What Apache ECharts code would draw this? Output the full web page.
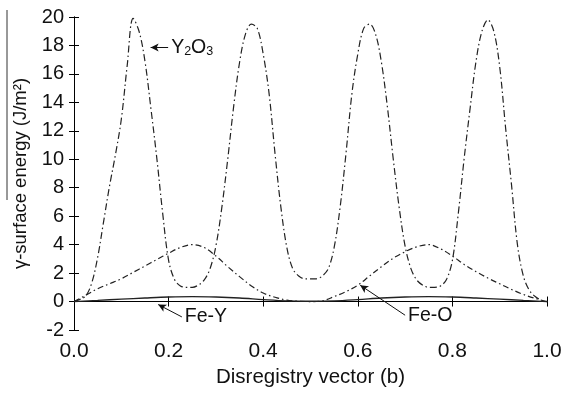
<!DOCTYPE html>
<html>
<head>
<meta charset="utf-8">
<script src="https://cdn.jsdelivr.net/npm/echarts@6/dist/echarts.min.js"></script>
<style>
  html, body { margin: 0; padding: 0; background: #fff; }
  #chart { width: 566px; height: 393px; }
</style>
</head>
<body>
<div id="chart"></div>
<script>
// disregistry (b) for the Y2O3 curve, sampled finely
const dispFine = [
  0, 0.0125, 0.025, 0.0375, 0.05, 0.0625, 0.075, 0.0875, 0.1, 0.1125,
  0.125, 0.1375, 0.15, 0.1625, 0.175, 0.1875, 0.2, 0.2125, 0.225, 0.2375,
  0.25, 0.2625, 0.275, 0.2875, 0.3, 0.3125, 0.325, 0.3375, 0.35, 0.3625,
  0.375, 0.3875, 0.4, 0.4125, 0.425, 0.4375, 0.45, 0.4625, 0.475, 0.4875,
  0.5, 0.5125, 0.525, 0.5375, 0.55, 0.5625, 0.575, 0.5875, 0.6, 0.6125,
  0.625, 0.6375, 0.65, 0.6625, 0.675, 0.6875, 0.7, 0.7125, 0.725, 0.7375,
  0.75, 0.7625, 0.775, 0.7875, 0.8, 0.8125, 0.825, 0.8375, 0.85, 0.8625,
  0.875, 0.8875, 0.9, 0.9125, 0.925, 0.9375, 0.95, 0.9625, 0.975, 0.9875,
  1
];
const energyY2O3 = [
  0, 0.15, 0.4, 1.3, 3.1, 5.6, 8.1, 10.3, 12.8, 16.6,
  19.9, 19.0, 16.9, 13.6, 10.1, 6.2, 2.9, 1.55, 1.1, 1.0,
  1.0, 1.15, 1.5, 2.3, 3.9, 6.6, 10.0, 13.7, 16.8, 18.8,
  19.5, 19.2, 17.4, 14.6, 10.4, 6.6, 3.8, 2.3, 1.8, 1.6,
  1.6, 1.6, 1.8, 2.3, 3.8, 6.6, 10.4, 14.6, 17.4, 19.2,
  19.5, 18.8, 16.8, 13.7, 10.0, 6.6, 3.9, 2.3, 1.5, 1.15,
  1.0, 1.0, 1.1, 1.55, 2.9, 6.2, 10.1, 13.6, 16.9, 19.0,
  19.8, 19.0, 16.5, 12.2, 8.2, 4.0, 1.8, 0.8, 0.35, 0.1,
  0
];

// disregistry (b) for the Fe-O curve
const dispCoarse = [
  0, 0.025, 0.05, 0.075, 0.1, 0.125, 0.15, 0.175, 0.2, 0.225,
  0.25, 0.275, 0.3, 0.325, 0.35, 0.375, 0.4, 0.425, 0.45, 0.475,
  0.5, 0.525, 0.55, 0.575, 0.6, 0.625, 0.65, 0.675, 0.7, 0.725,
  0.75, 0.775, 0.8, 0.825, 0.85, 0.875, 0.9, 0.925, 0.95, 0.975,
  1
];
const energyFeO = [
  0, 0.45, 0.9, 1.25, 1.6, 2.05, 2.5, 2.95, 3.4, 3.8,
  4.0, 3.8, 3.2, 2.45, 1.75, 1.1, 0.6, 0.3, 0.1, 0.02,
  0, 0.05, 0.35, 0.7, 1.15, 1.8, 2.45, 3.05, 3.5, 3.85,
  4.0, 3.7, 3.2, 2.6, 2.1, 1.65, 1.25, 0.85, 0.5, 0.22,
  0
];

// disregistry (b) for the Fe-Y curve
const dispFeY = [
  0, 0.05, 0.1, 0.15, 0.2, 0.25, 0.3, 0.35, 0.4, 0.45,
  0.5, 0.55, 0.6, 0.65, 0.7, 0.75, 0.8, 0.85, 0.9, 0.95, 1
];
const energyFeY = [
  0, 0.08, 0.17, 0.25, 0.32, 0.35, 0.32, 0.25, 0.14, 0.05,
  0.02, 0.05, 0.14, 0.25, 0.32, 0.35, 0.32, 0.25, 0.17, 0.08, 0
];

// annotation arrows: [tail, head] in data units
const arrowY2O3 = [[0.199, 17.85], [0.162, 17.85]];
const arrowFeY = [[0.228, -1.08], [0.178, -0.21]];
const arrowFeO = [[0.700, -0.96], [0.605, 1.15]];

const xTicks = { min: 0, max: 1, interval: 0.2 };
const yTicks = { min: -2, max: 20, interval: 2 };

const FONT = 'Liberation Sans, Arial, sans-serif';
const INK = '#111';
const LINE = '#222';

function pairs(xs, ys) {
  return xs.map((x, i) => [x, ys[i]]);
}

function arrow(seg) {
  return {
    silent: true,
    symbol: ['none', 'arrow'],
    symbolSize: [6, 8],
    label: { show: false },
    lineStyle: { color: INK, width: 1, type: 'solid' },
    data: [[{ coord: seg[0] }, { coord: seg[1] }]]
  };
}

function tag(at, text, rich) {
  return {
    silent: true,
    symbol: 'circle',
    symbolSize: 0,
    data: [{
      coord: at,
      label: {
        show: true,
        position: 'right',
        distance: 3,
        formatter: text,
        color: INK,
        fontFamily: FONT,
        fontSize: 19.5,
        rich: rich
      }
    }]
  };
}

const chart = echarts.init(document.getElementById('chart'), null, { renderer: 'canvas' });

const axisCommon = {
  type: 'value',
  axisLine: { show: true, lineStyle: { color: '#000', width: 1 } },
  axisTick: { show: true, inside: true, length: 5, lineStyle: { color: '#000' } },
  splitLine: { show: false }
};

const option = {
  animation: false,
  backgroundColor: '#fff',
  grid: { left: 74, top: 17, width: 473, height: 315, show: false },
  xAxis: [
    Object.assign({}, axisCommon, xTicks, {
      position: 'bottom',
      name: 'Disregistry vector (b)',
      nameLocation: 'middle',
      nameGap: 37,
      nameTextStyle: { color: INK, fontFamily: FONT, fontSize: 20.5 },
      axisLabel: {
        color: INK, fontFamily: FONT, fontSize: 21, margin: 11,
        formatter: v => v.toFixed(1)
      }
    }),
    Object.assign({}, axisCommon, xTicks, {
      position: 'top',
      axisLabel: { show: false }
    })
  ],
  yAxis: [
    Object.assign({}, axisCommon, yTicks, {
      position: 'left',
      name: 'γ-surface energy (J/m²)',
      nameLocation: 'middle',
      nameGap: 42,
      nameRotate: 90,
      nameTextStyle: { color: INK, fontFamily: FONT, fontSize: 18.5 },
      axisLabel: { color: INK, fontFamily: FONT, fontSize: 20, margin: 10 }
    }),
    Object.assign({}, axisCommon, yTicks, {
      position: 'right',
      axisLabel: { show: false }
    })
  ],
  graphic: [{
    type: 'line',
    shape: { x1: 7, y1: 10, x2: 7, y2: 200 },
    style: { stroke: '#333', lineWidth: 1 },
    silent: true
  }],
  series: [
    {
      name: 'Y2O3',
      type: 'line',
      data: pairs(dispFine, energyY2O3),
      smooth: 0.35,
      showSymbol: false,
      lineStyle: { color: LINE, width: 1.2, type: [7, 3, 1.5, 3] },
      markLine: arrow(arrowY2O3),
      markPoint: tag(arrowY2O3[0], 'Y{s|2}O{s|3}', {
        s: { fontSize: 12.5, fontFamily: FONT, color: INK, verticalAlign: 'bottom', lineHeight: 12 }
      })
    },
    {
      name: 'Fe-O',
      type: 'line',
      data: pairs(dispCoarse, energyFeO),
      smooth: 0.35,
      showSymbol: false,
      lineStyle: { color: LINE, width: 1.2, type: [6, 3, 1.5, 3] },
      markLine: arrow(arrowFeO),
      markPoint: tag(arrowFeO[0], 'Fe-O')
    },
    {
      name: 'Fe-Y',
      type: 'line',
      data: pairs(dispFeY, energyFeY),
      smooth: 0.35,
      showSymbol: false,
      lineStyle: { color: LINE, width: 1.3, type: 'solid' },
      markLine: arrow(arrowFeY),
      markPoint: tag(arrowFeY[0], 'Fe-Y')
    }
  ]
};

chart.setOption(option);
</script>
</body>
</html>
